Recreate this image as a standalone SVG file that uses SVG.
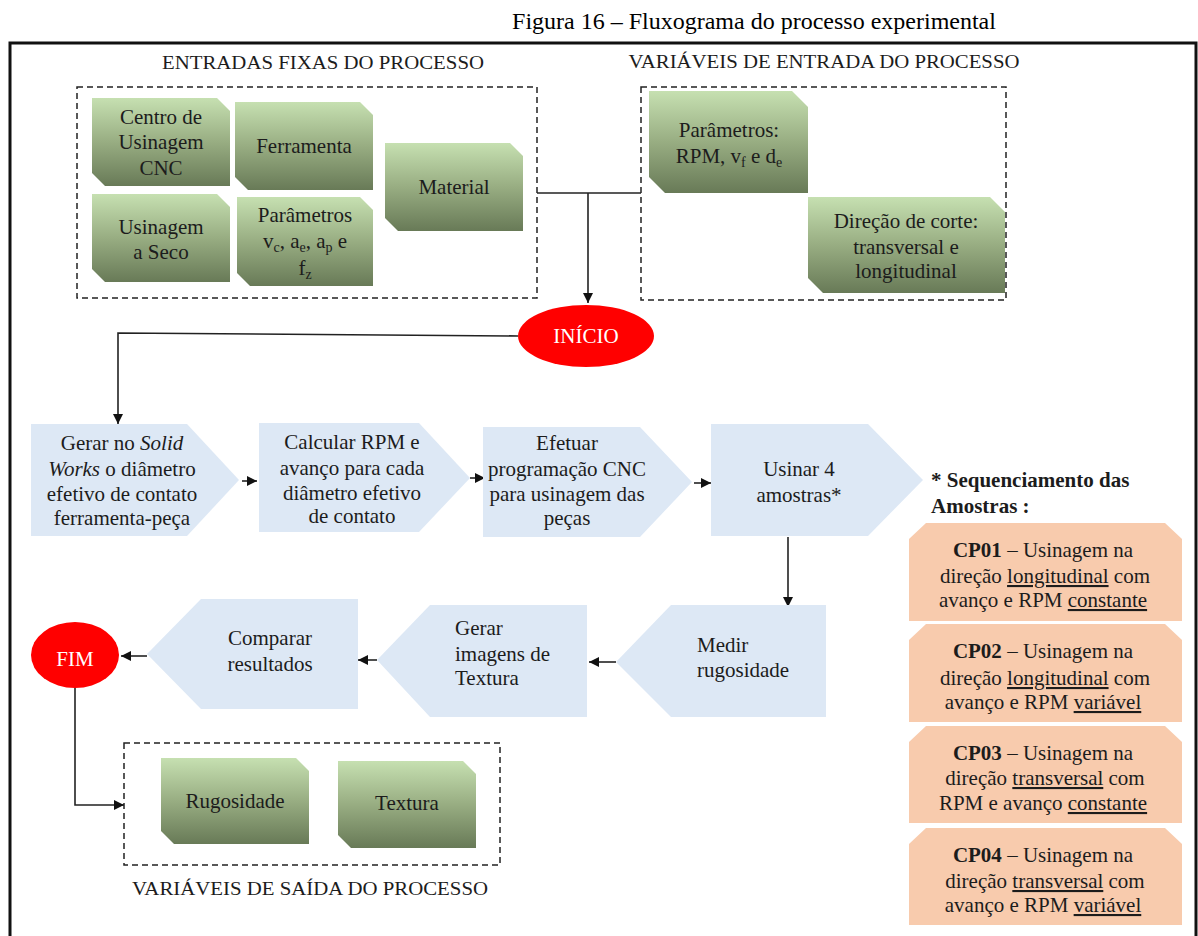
<svg xmlns="http://www.w3.org/2000/svg" width="1198" height="936" viewBox="0 0 1198 936">
  <style>
    text { font-family: "Liberation Serif", "Times New Roman", serif; fill: #1c1c1c; }
    .t { font-size: 21px; }
    .mid { text-anchor: middle; }
    .cap { font-size: 19px; text-anchor: middle; }
    .title { font-size: 24px; text-anchor: middle; fill: #000; }
    .green { fill: url(#greenGrad); }
    .chev { fill: #dde8f5; }
    .orange { fill: #f8cbad; }
    .red { fill: #ff0000; }
    .white { fill: #ffffff; font-size: 21px; text-anchor: middle; }
    .dash { fill: none; stroke: #222; stroke-width: 1.5; stroke-dasharray: 6 4; }
    .conn { fill: none; stroke: #222; stroke-width: 1.6; }
    .b { font-weight: bold; }
    .u { text-decoration: underline; }
    .sub { font-size: 14px; }
  </style>
  <defs>
    <linearGradient id="greenGrad" x1="0" y1="0" x2="0" y2="1">
      <stop offset="0" stop-color="#c6e0b1"/>
      <stop offset="0.5" stop-color="#98ad82"/>
      <stop offset="1" stop-color="#687a57"/>
    </linearGradient>
    <marker id="arrow" markerUnits="userSpaceOnUse" markerWidth="11" markerHeight="10" refX="10" refY="5" orient="auto">
      <path d="M0,0 L10,5 L0,10 Z" fill="#111"/>
    </marker>
  </defs>

  <!-- title and frame -->
  <text class="title" x="754" y="29">Figura 16 – Fluxograma do processo experimental</text>
  <rect x="10" y="43" width="1186" height="905" fill="none" stroke="#111" stroke-width="3"/>

  <!-- group captions -->
  <text class="cap" x="323" y="69" textLength="322" lengthAdjust="spacingAndGlyphs">ENTRADAS FIXAS DO PROCESSO</text>
  <text class="cap" x="824" y="68" textLength="391" lengthAdjust="spacingAndGlyphs">VARIÁVEIS DE ENTRADA DO PROCESSO</text>
  <text class="cap" x="310" y="895" textLength="356" lengthAdjust="spacingAndGlyphs">VARIÁVEIS DE SAÍDA DO PROCESSO</text>

  <!-- dashed group boxes -->
  <rect class="dash" x="77" y="87" width="460" height="211"/>
  <rect class="dash" x="641" y="87" width="365" height="213"/>
  <rect class="dash" x="124" y="743" width="376" height="122"/>

  <!-- connectors -->
  <g id="connectors">
    <path class="conn" d="M537,193 L641,193"/>
    <path class="conn" d="M588,193 L588,303" marker-end="url(#arrow)"/>
    <path class="conn" d="M518,336 L118,333 L118,424" marker-end="url(#arrow)"/>
    <path class="conn" d="M242,481 L257,481" marker-end="url(#arrow)"/>
    <path class="conn" d="M470,478 L485,478" marker-end="url(#arrow)"/>
    <path class="conn" d="M694,483 L711,483" marker-end="url(#arrow)"/>
    <path class="conn" d="M788,537 L788,607" marker-end="url(#arrow)"/>
    <path class="conn" d="M616,662 L589,662" marker-end="url(#arrow)"/>
    <path class="conn" d="M377,660 L358,660" marker-end="url(#arrow)"/>
    <path class="conn" d="M147,656 L121,656" marker-end="url(#arrow)"/>
    <path class="conn" d="M75,688 L75,805 L124,805" marker-end="url(#arrow)"/>
  </g>

  <!-- fixed inputs -->
  <g id="centro-usinagem">
    <path class="green" d="M92,98 L217,98 L230,111 L230,186 L105,186 L92,173 Z"/>
    <text class="t mid" x="161" y="124">Centro de</text>
    <text class="t mid" x="161" y="149">Usinagem</text>
    <text class="t mid" x="161" y="175">CNC</text>
  </g>
  <g id="ferramenta">
    <path class="green" d="M235,102 L360,102 L373,115 L373,190 L248,190 L235,177 Z"/>
    <text class="t mid" x="304" y="153">Ferramenta</text>
  </g>
  <g id="material">
    <path class="green" d="M385,143 L510,143 L523,156 L523,231 L398,231 L385,218 Z"/>
    <text class="t mid" x="454" y="194">Material</text>
  </g>
  <g id="usinagem-seco">
    <path class="green" d="M92,194 L217,194 L230,207 L230,282 L105,282 L92,269 Z"/>
    <text class="t mid" x="161" y="234">Usinagem</text>
    <text class="t mid" x="161" y="259">a Seco</text>
  </g>
  <g id="parametros-fixos">
    <path class="green" d="M237,197 L360,197 L373,210 L373,286 L250,286 L237,273 Z"/>
    <text class="t mid" x="305" y="222">Parâmetros</text>
    <text class="t mid" x="305" y="248">v<tspan class="sub" dy="4">c</tspan><tspan dy="-4">,  a</tspan><tspan class="sub" dy="4">e</tspan><tspan dy="-4">, a</tspan><tspan class="sub" dy="4">p</tspan><tspan dy="-4"> e</tspan></text>
    <text class="t mid" x="305" y="275">f<tspan class="sub" dy="4">z</tspan></text>
  </g>

  <!-- variable inputs -->
  <g id="parametros-variaveis">
    <path class="green" d="M649,91 L792,91 L808,107 L808,193 L665,193 L649,177 Z"/>
    <text class="t mid" x="729" y="137">Parâmetros:</text>
    <text class="t mid" x="729" y="163">RPM, v<tspan class="sub" dy="4">f</tspan><tspan dy="-4"> e d</tspan><tspan class="sub" dy="4">e</tspan></text>
  </g>
  <g id="direcao-corte">
    <path class="green" d="M808,197 L990,197 L1005,212 L1005,293 L823,293 L808,278 Z"/>
    <text class="t mid" x="906" y="228">Direção de corte:</text>
    <text class="t mid" x="906" y="254">transversal e</text>
    <text class="t mid" x="906" y="278">longitudinal</text>
  </g>

  <!-- start -->
  <g id="inicio">
    <ellipse class="red" cx="586" cy="336" rx="68" ry="31"/>
    <text class="white" x="586" y="343">INÍCIO</text>
  </g>

  <!-- process steps -->
  <g id="gerar-solidworks">
    <path class="chev" d="M31,424 L187,424 L239,480 L187,536 L31,536 Z"/>
    <text class="t mid" x="122" y="450">Gerar no <tspan font-style="italic">Solid</tspan></text>
    <text class="t mid" x="122" y="476"><tspan font-style="italic">Works</tspan> o diâmetro</text>
    <text class="t mid" x="122" y="501">efetivo de contato</text>
    <text class="t mid" x="122" y="525">ferramenta-peça</text>
  </g>
  <g id="calcular-rpm">
    <path class="chev" d="M259,423 L419,423 L470,478 L419,532 L259,532 Z"/>
    <text class="t mid" x="352" y="449">Calcular RPM e</text>
    <text class="t mid" x="352" y="475">avanço para cada</text>
    <text class="t mid" x="352" y="500">diâmetro efetivo</text>
    <text class="t mid" x="352" y="523">de contato</text>
  </g>
  <g id="programacao-cnc">
    <path class="chev" d="M483,427 L640,427 L692,482 L640,537 L483,537 Z"/>
    <text class="t mid" x="567" y="450">Efetuar</text>
    <text class="t mid" x="567" y="476">programação CNC</text>
    <text class="t mid" x="567" y="501">para usinagem das</text>
    <text class="t mid" x="567" y="525">peças</text>
  </g>
  <g id="usinar-amostras">
    <path class="chev" d="M711,424 L868,424 L923,480 L868,536 L711,536 Z"/>
    <text class="t mid" x="799" y="476">Usinar 4</text>
    <text class="t mid" x="799" y="502">amostras*</text>
  </g>
  <g id="medir-rugosidade">
    <path class="chev" d="M616,662 L671,605 L826,605 L826,717 L671,717 Z"/>
    <text class="t" x="697" y="652">Medir</text>
    <text class="t" x="697" y="677">rugosidade</text>
  </g>
  <g id="gerar-imagens">
    <path class="chev" d="M377,660 L430,605 L587,605 L587,717 L430,717 Z"/>
    <text class="t" x="455" y="635">Gerar</text>
    <text class="t" x="455" y="661">imagens de</text>
    <text class="t" x="455" y="685">Textura</text>
  </g>
  <g id="comparar-resultados">
    <path class="chev" d="M147,654 L201,599 L358,599 L358,709 L201,709 Z"/>
    <text class="t mid" x="270" y="645">Comparar</text>
    <text class="t mid" x="270" y="671">resultados</text>
  </g>

  <!-- end -->
  <g id="fim">
    <ellipse class="red" cx="75" cy="655" rx="44" ry="33"/>
    <text class="white" x="75" y="666">FIM</text>
  </g>

  <!-- outputs -->
  <g id="rugosidade">
    <path class="green" d="M161,758 L296,758 L309,771 L309,844 L174,844 L161,831 Z"/>
    <text class="t mid" x="235" y="808">Rugosidade</text>
  </g>
  <g id="textura">
    <path class="green" d="M338,761 L463,761 L476,774 L476,848 L351,848 L338,835 Z"/>
    <text class="t mid" x="407" y="810">Textura</text>
  </g>

  <!-- sample sequence -->
  <g id="sequenciamento">
    <text class="t b" x="931" y="487">* Sequenciamento das</text>
    <text class="t b" x="931" y="513">Amostras :</text>
  </g>
  <g id="cp01">
    <path class="orange" d="M926,523 L1165,523 L1182,539 L1182,621 L909,621 L909,539 Z"/>
    <text class="t mid" x="1043" y="557"><tspan class="b">CP01</tspan> – Usinagem na</text>
    <text class="t mid" x="1045" y="583">direção <tspan class="u">longitudinal</tspan> com</text>
    <text class="t mid" x="1043" y="607">avanço e RPM <tspan class="u">constante</tspan></text>
  </g>
  <g id="cp02">
    <path class="orange" d="M926,624 L1165,624 L1182,640 L1182,722 L909,722 L909,640 Z"/>
    <text class="t mid" x="1043" y="658"><tspan class="b">CP02</tspan> – Usinagem na</text>
    <text class="t mid" x="1045" y="685">direção <tspan class="u">longitudinal</tspan> com</text>
    <text class="t mid" x="1043" y="709">avanço e RPM <tspan class="u">variável</tspan></text>
  </g>
  <g id="cp03">
    <path class="orange" d="M926,726 L1165,726 L1182,742 L1182,823 L909,823 L909,742 Z"/>
    <text class="t mid" x="1043" y="760"><tspan class="b">CP03</tspan> – Usinagem na</text>
    <text class="t mid" x="1045" y="785">direção <tspan class="u">transversal</tspan> com</text>
    <text class="t mid" x="1043" y="810">RPM e avanço <tspan class="u">constante</tspan></text>
  </g>
  <g id="cp04">
    <path class="orange" d="M926,828 L1165,828 L1182,844 L1182,925 L909,925 L909,844 Z"/>
    <text class="t mid" x="1043" y="862"><tspan class="b">CP04</tspan> – Usinagem na</text>
    <text class="t mid" x="1045" y="888">direção <tspan class="u">transversal</tspan> com</text>
    <text class="t mid" x="1043" y="912">avanço e RPM <tspan class="u">variável</tspan></text>
  </g>
</svg>
